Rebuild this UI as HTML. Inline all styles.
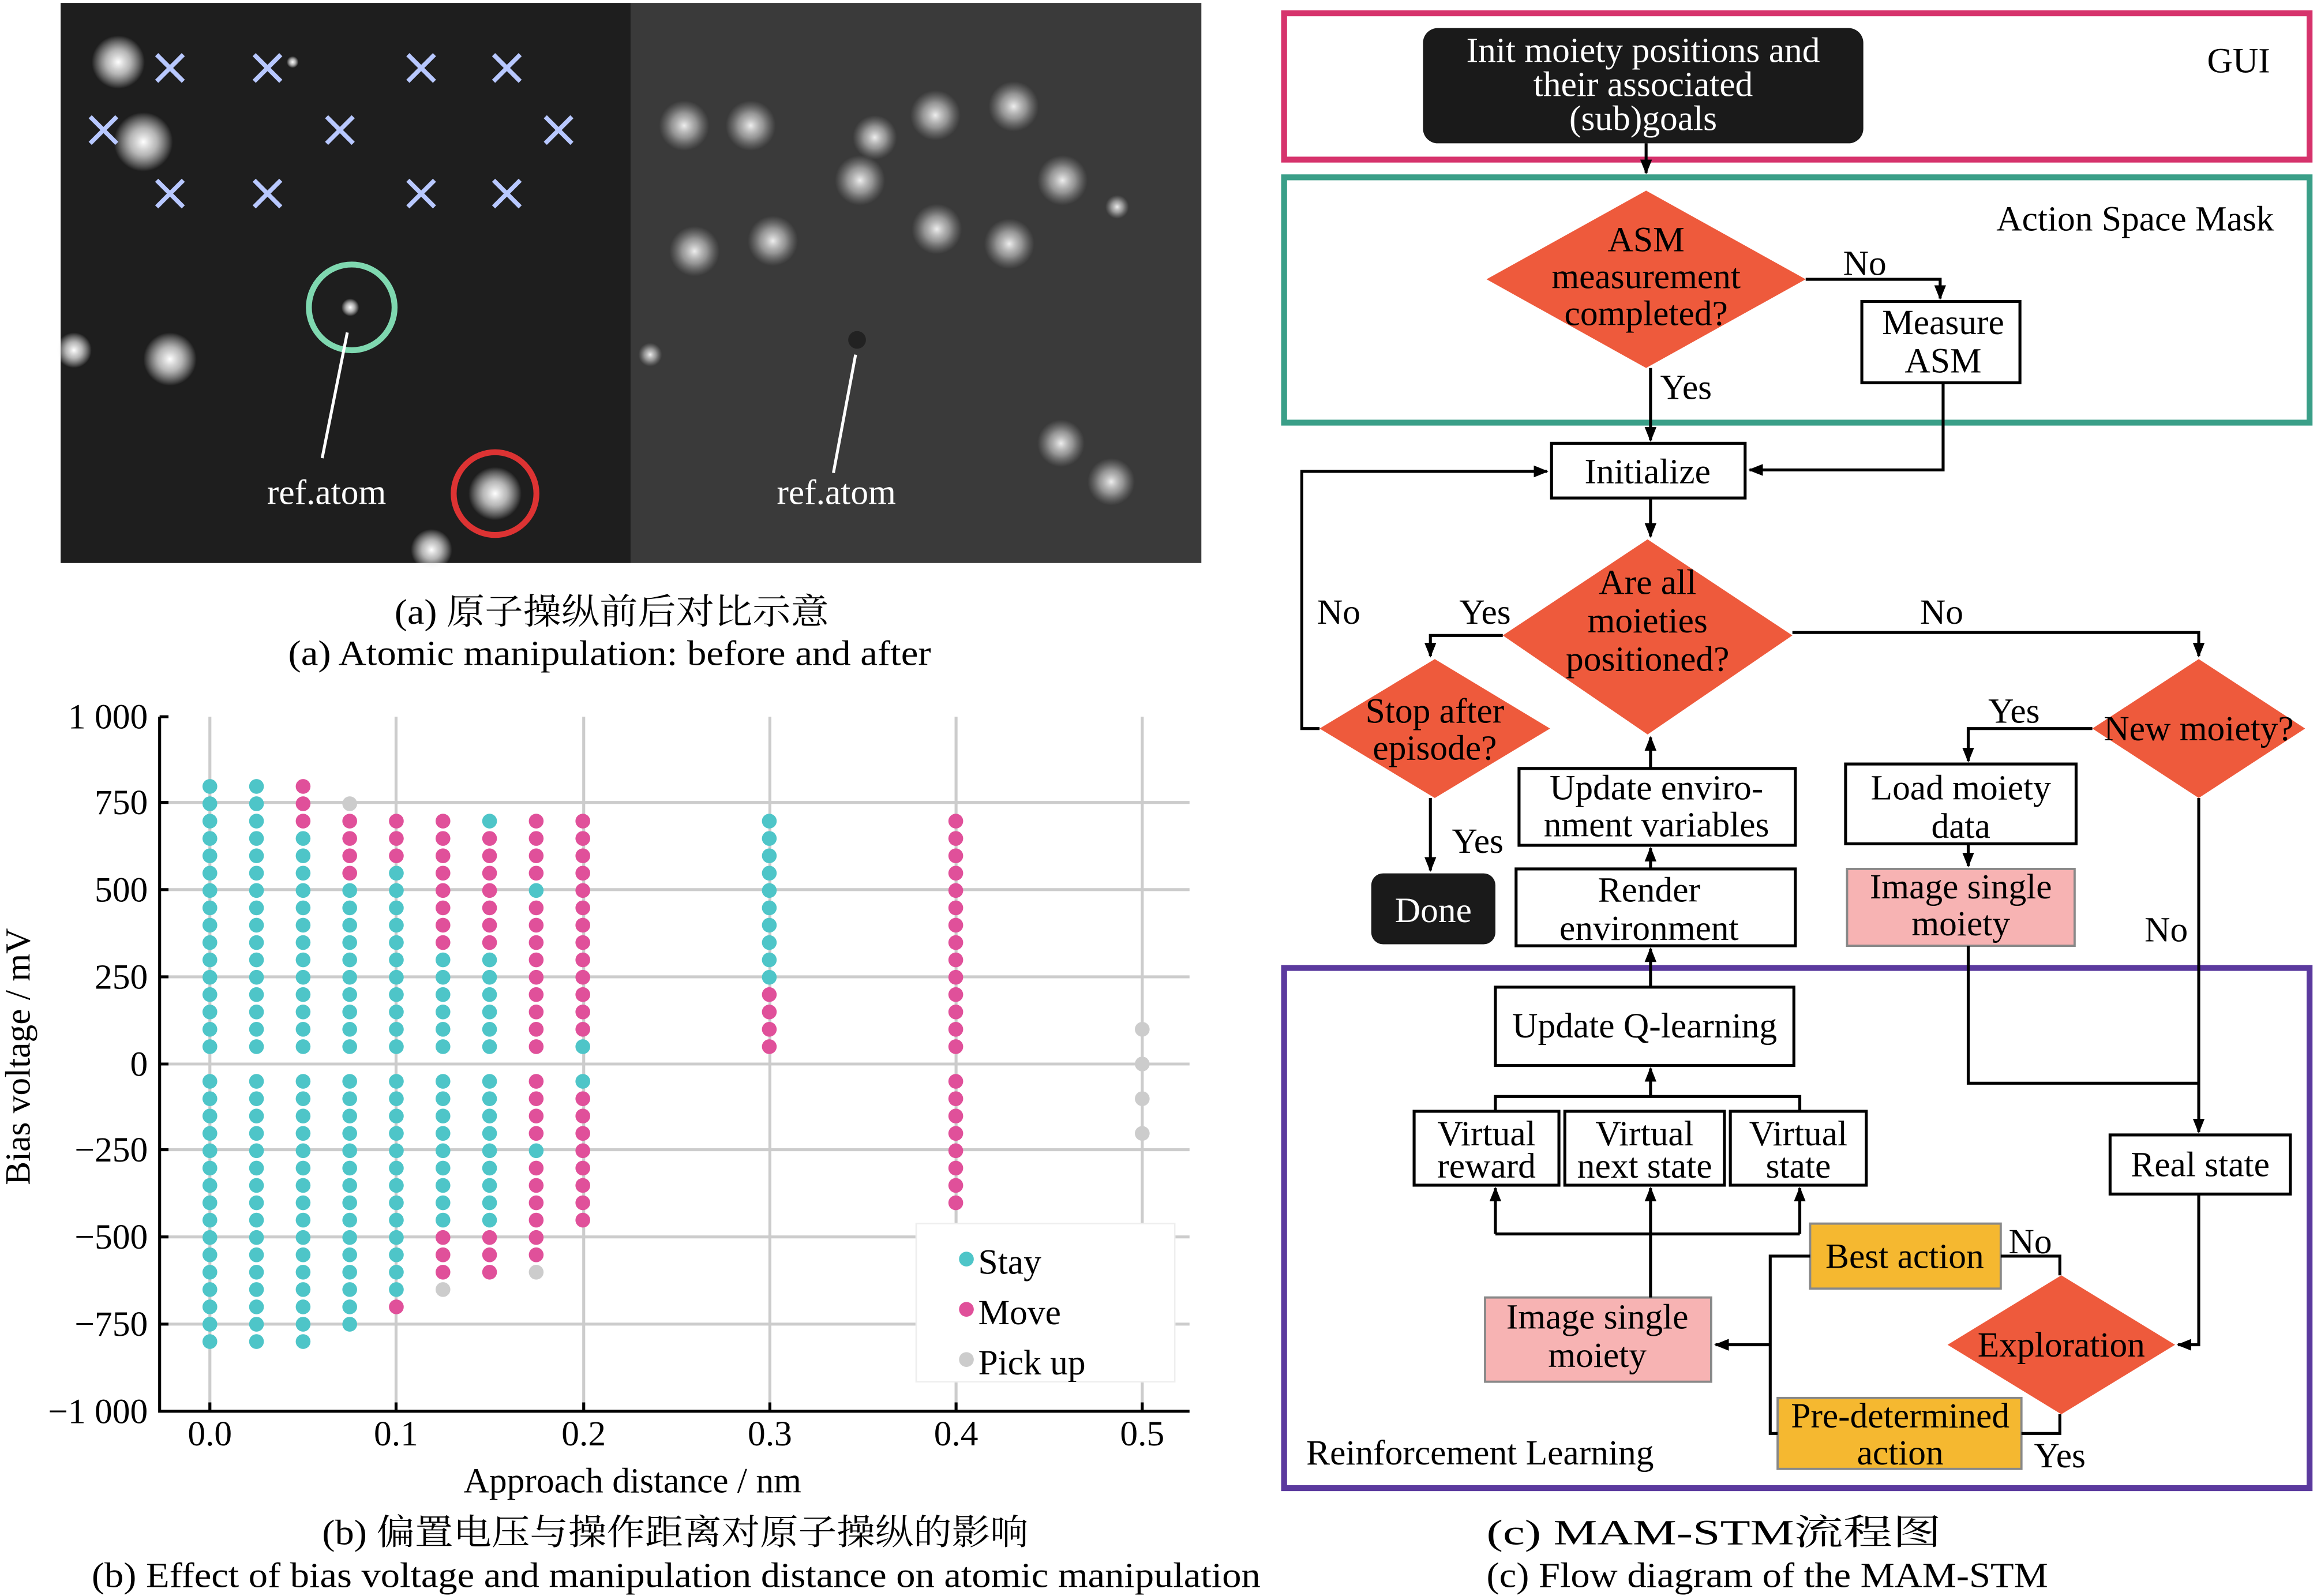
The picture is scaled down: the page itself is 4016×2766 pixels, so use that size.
<!DOCTYPE html>
<html><head><meta charset="utf-8"><style>
html,body{margin:0;padding:0;background:#fff;}
svg{display:block;}
text{font-family:"Liberation Serif","Noto Serif CJK SC","Noto Sans CJK SC",serif;}
</style></head><body>
<svg width="4016" height="2766" viewBox="0 0 1568 1080" xmlns="http://www.w3.org/2000/svg">
<defs>
<marker id="ar" markerWidth="10" markerHeight="10" refX="9" refY="5" orient="auto" markerUnits="userSpaceOnUse"><path d="M0,1 L10,5 L0,9 z" fill="#000"/></marker>
<radialGradient id="bl"><stop offset="0" stop-color="#fff"/><stop offset="0.45" stop-color="#ddd" stop-opacity="0.8"/><stop offset="1" stop-color="#fff" stop-opacity="0"/></radialGradient>
<radialGradient id="bl2"><stop offset="0" stop-color="#eee"/><stop offset="0.5" stop-color="#bbb" stop-opacity="0.7"/><stop offset="1" stop-color="#999" stop-opacity="0"/></radialGradient>
</defs>
<rect width="1568" height="1080" fill="#fff"/>

<!-- Panel a -->
<rect x="41" y="2" width="386" height="379" fill="#1e1e1e"/>
<rect x="427" y="2" width="386" height="379" fill="#3a3a3a"/>
<g>
<circle cx="80" cy="42" r="18" fill="url(#bl)"/><circle cx="97" cy="96" r="20" fill="url(#bl)"/>
<circle cx="115" cy="243" r="18" fill="url(#bl)"/><circle cx="335" cy="334" r="18" fill="url(#bl)"/>
<circle cx="292" cy="372" r="14" fill="url(#bl)"/><circle cx="50" cy="237" r="12" fill="url(#bl)"/>
<circle cx="237" cy="208" r="6" fill="url(#bl)"/><circle cx="198" cy="42" r="4" fill="url(#bl)"/>
</g>
<g fill="url(#bl2)">
<circle cx="463" cy="85" r="17"/><circle cx="508" cy="85" r="17"/><circle cx="592" cy="93" r="15"/>
<circle cx="633" cy="78" r="17"/><circle cx="686" cy="72" r="17"/><circle cx="582" cy="122" r="17"/>
<circle cx="719" cy="122" r="17"/><circle cx="470" cy="170" r="17"/><circle cx="523" cy="163" r="17"/>
<circle cx="634" cy="155" r="17"/><circle cx="683" cy="165" r="17"/><circle cx="756" cy="140" r="8"/>
<circle cx="718" cy="300" r="16"/><circle cx="752" cy="326" r="16"/><circle cx="440" cy="240" r="8"/>
</g>
<circle cx="580" cy="230" r="6" fill="#222"/>
<g stroke="#b8c8ff" stroke-width="3">
<path d="M106,37l18,18M124,37l-18,18M172,37l18,18M190,37l-18,18M276,37l18,18M294,37l-18,18M334,37l18,18M352,37l-18,18M61,79l18,18M79,79l-18,18M221,79l18,18M239,79l-18,18M369,79l18,18M387,79l-18,18M106,122l18,18M124,122l-18,18M172,122l18,18M190,122l-18,18M276,122l18,18M294,122l-18,18M334,122l18,18M352,122l-18,18"/>
</g>
<circle cx="238" cy="208" r="29" fill="none" stroke="#7fd8b0" stroke-width="4"/>
<circle cx="335" cy="334" r="28" fill="none" stroke="#d33" stroke-width="4"/>
<line x1="235" y1="225" x2="218" y2="310" stroke="#fff" stroke-width="2"/>
<line x1="579" y1="240" x2="564" y2="320" stroke="#fff" stroke-width="2"/>
<text x="221" y="341" fill="#fff" font-size="24" text-anchor="middle">ref.atom</text>
<text x="566" y="341" fill="#fff" font-size="24" text-anchor="middle">ref.atom</text>
<g font-size="24">
<text x="267" y="422" textLength="294" lengthAdjust="spacingAndGlyphs">(a) 原子操纵前后对比示意</text>
<text x="195" y="450" textLength="435" lengthAdjust="spacingAndGlyphs">(a) Atomic manipulation: before and after</text>
</g>

<!-- Panel b -->
<g stroke="#ccc" stroke-width="2">
<path d="M108,543H805M108,602H805M108,661H805M108,720H805M108,778H805M108,837H805M108,896H805"/>
<path d="M142,485V955M268,485V955M395,485V955M521,485V955M647,485V955M773,485V955"/>
</g>
<path d="M108,485V955H805" stroke="#000" stroke-width="2" fill="none"/>
<g stroke="#000" stroke-width="2"><path d="M108,485h6M108,543h6M108,602h6M108,661h6M108,720h6M108,778h6M108,837h6M108,896h6M142,955v-6M268,955v-6M395,955v-6M521,955v-6M647,955v-6M773,955v-6"/></g>
<g font-size="24" text-anchor="end">
<text x="100" y="493">1 000</text><text x="100" y="551">750</text><text x="100" y="610">500</text><text x="100" y="669">250</text><text x="100" y="728">0</text><text x="100" y="786">−250</text><text x="100" y="845">−500</text><text x="100" y="904">−750</text><text x="100" y="963">−1 000</text>
</g>
<g font-size="24" text-anchor="middle">
<text x="142" y="978">0.0</text><text x="268" y="978">0.1</text><text x="395" y="978">0.2</text><text x="521" y="978">0.3</text><text x="647" y="978">0.4</text><text x="773" y="978">0.5</text>
<text x="428" y="1010">Approach distance / nm</text>
<text x="20" y="715" transform="rotate(-90 20 715)">Bias voltage / mV</text>
</g>
<g font-size="24">
<text x="218" y="1045" textLength="478" lengthAdjust="spacingAndGlyphs">(b) 偏置电压与操作距离对原子操纵的影响</text>
<text x="62" y="1074" textLength="791" lengthAdjust="spacingAndGlyphs">(b) Effect of bias voltage and manipulation distance on atomic manipulation</text>
</g>
<rect x="620" y="828" width="175" height="107" fill="#fff" stroke="#eee"/>
<circle cx="654" cy="852" r="5" fill="#4ec5c8"/><circle cx="654" cy="886" r="5" fill="#e0509a"/><circle cx="654" cy="920" r="5" fill="#ccc"/>
<g font-size="24"><text x="662" y="862">Stay</text><text x="662" y="896">Move</text><text x="662" y="930">Pick up</text></g>

<!-- Panel c -->
<g fill="none" stroke-width="4">
<rect x="869" y="9" width="694" height="99" stroke="#d6336c"/>
<rect x="869" y="120" width="694" height="166" stroke="#3a9f88"/>
<rect x="869" y="655" width="694" height="352" stroke="#5b3a9e"/>
</g>
<g font-size="24">
<text x="1515" y="49" text-anchor="middle">GUI</text>
<text x="1445" y="156" text-anchor="middle">Action Space Mask</text>
<text x="884" y="991">Reinforcement Learning</text>
</g>
<rect x="963" y="19" width="298" height="78" rx="10" fill="#1a1a1a"/>
<g font-size="24" fill="#fff" text-anchor="middle"><text x="1112" y="42">Init moiety positions and</text><text x="1112" y="65">their associated</text><text x="1112" y="88">(sub)goals</text></g>
<g fill="#ee5a3c">
<polygon points="1114,129 1222,189 1114,249 1006,189"/>
<polygon points="1115,365 1213,430 1115,497 1017,430"/>
<polygon points="971,446 1049,493 971,540 893,493"/>
<polygon points="1488,446 1560,493 1488,540 1416,493"/>
<polygon points="1395,863 1472,910 1395,957 1318,910"/>
</g>
<g fill="#fff" stroke="#000" stroke-width="2">
<rect x="1260" y="204" width="107" height="55"/>
<rect x="1050" y="300" width="131" height="37"/>
<rect x="1249" y="517" width="156" height="54"/>
<rect x="1028" y="520" width="187" height="52"/>
<rect x="1026" y="588" width="189" height="52"/>
<rect x="1428" y="768" width="122" height="40"/>
<rect x="1012" y="668" width="202" height="53"/>
<rect x="957" y="752" width="98" height="50"/>
<rect x="1059" y="752" width="108" height="50"/>
<rect x="1171" y="752" width="92" height="50"/>
</g>
<g stroke="#888" stroke-width="1.5">
<rect x="1250" y="588" width="154" height="52" fill="#f7b3b3"/>
<rect x="1005" y="878" width="153" height="57" fill="#f7b3b3"/>
<rect x="1225" y="828" width="129" height="44" fill="#f5b830"/>
<rect x="1203" y="946" width="165" height="48" fill="#f5b830"/>
</g>
<rect x="928" y="591" width="84" height="48" rx="8" fill="#1a1a1a"/>
<g font-size="24" text-anchor="middle">
<text x="1114" y="170">ASM</text><text x="1114" y="195">measurement</text><text x="1114" y="220">completed?</text>
<text x="1315" y="226">Measure</text><text x="1315" y="252">ASM</text>
<text x="1115" y="327">Initialize</text>
<text x="1115" y="402">Are all</text><text x="1115" y="428">moieties</text><text x="1115" y="454">positioned?</text>
<text x="971" y="489">Stop after</text><text x="971" y="514">episode?</text>
<text x="1488" y="501">New moiety?</text>
<text x="1327" y="541">Load moiety</text><text x="1327" y="567">data</text>
<text x="1327" y="608">Image single</text><text x="1327" y="633">moiety</text>
<text x="1121" y="541">Update enviro-</text><text x="1121" y="566">nment variables</text>
<text x="1116" y="610">Render</text><text x="1116" y="636">environment</text>
<text x="970" y="624" fill="#fff">Done</text>
<text x="1489" y="796">Real state</text>
<text x="1113" y="702">Update Q-learning</text>
<text x="1006" y="775">Virtual</text><text x="1006" y="797">reward</text>
<text x="1113" y="775">Virtual</text><text x="1113" y="797">next state</text>
<text x="1217" y="775">Virtual</text><text x="1217" y="797">state</text>
<text x="1081" y="899">Image single</text><text x="1081" y="925">moiety</text>
<text x="1289" y="858">Best action</text>
<text x="1286" y="966">Pre-determined</text><text x="1286" y="991">action</text>
<text x="1395" y="918">Exploration</text>
<text x="1262" y="186">No</text><text x="1141" y="270">Yes</text>
<text x="1005" y="422">Yes</text><text x="1314" y="422">No</text><text x="906" y="422">No</text>
<text x="1000" y="577">Yes</text><text x="1363" y="489">Yes</text><text x="1466" y="637">No</text>
<text x="1374" y="848">No</text><text x="1394" y="993">Yes</text>
</g>
<g font-size="24">
<text x="1006" y="1045" textLength="308" lengthAdjust="spacingAndGlyphs">(c) MAM-STM流程图</text>
<text x="1006" y="1074" textLength="380" lengthAdjust="spacingAndGlyphs">(c) Flow diagram of the MAM-STM</text>
</g>
<g fill="none" stroke="#000" stroke-width="2">
<path d="M1114,97V117" marker-end="url(#ar)"/>
<path d="M1222,189H1313V202" marker-end="url(#ar)"/>
<path d="M1117,249V298" marker-end="url(#ar)"/>
<path d="M1315,259V318H1184" marker-end="url(#ar)"/>
<path d="M893,493H881V319H1047" marker-end="url(#ar)"/>
<path d="M1117,337V363" marker-end="url(#ar)"/>
<path d="M1017,430H968V444" marker-end="url(#ar)"/>
<path d="M1213,428H1488V444" marker-end="url(#ar)"/>
<path d="M968,540V589" marker-end="url(#ar)"/>
<path d="M1416,493H1332V515" marker-end="url(#ar)"/>
<path d="M1332,571V586" marker-end="url(#ar)"/>
<path d="M1332,640V733H1488"/>
<path d="M1488,540V766" marker-end="url(#ar)"/>
<path d="M1117,520V499" marker-end="url(#ar)"/>
<path d="M1117,588V574" marker-end="url(#ar)"/>
<path d="M1117,668V642" marker-end="url(#ar)"/>
<path d="M1012,752V742H1218V752"/>
<path d="M1117,742V723" marker-end="url(#ar)"/>
<path d="M1012,835H1218"/>
<path d="M1012,835V804" marker-end="url(#ar)"/>
<path d="M1218,835V804" marker-end="url(#ar)"/>
<path d="M1117,878V804" marker-end="url(#ar)"/>
<path d="M1488,808V910H1474" marker-end="url(#ar)"/>
<path d="M1354,850H1394V863"/>
<path d="M1368,970H1394V957"/>
<path d="M1225,850H1198V970H1203"/>
<path d="M1198,910H1161" marker-end="url(#ar)"/>
</g>

<g id="d"></g>
<script>
(function(){
var T="#4ec5c8",M="#e0509a",G="#ccc";
function X(v){return 142+v*1262;}
function Y(v){return 720-v*0.2348;}
var g=document.getElementById('d'),ns="http://www.w3.org/2000/svg";
function col(x,segs){segs.forEach(function(s){for(var v=s[0];v>=s[1];v-=50){var c=document.createElementNS(ns,'circle');c.setAttribute('cx',X(x));c.setAttribute('cy',Y(v));c.setAttribute('r',5);c.setAttribute('fill',s[2]);g.appendChild(c);}});}
col(0,[[800,50,T],[-50,-800,T]]);
col(0.025,[[800,50,T],[-50,-800,T]]);
col(0.05,[[800,700,M],[650,50,T],[-50,-800,T]]);
col(0.075,[[750,750,G],[700,550,M],[500,50,T],[-50,-750,T]]);
col(0.1,[[700,600,M],[550,50,T],[-50,-650,T],[-700,-700,M]]);
col(0.125,[[700,350,M],[300,50,T],[-50,-450,T],[-500,-600,M],[-650,-650,G]]);
col(0.15,[[700,700,T],[650,350,M],[300,50,T],[-50,-450,T],[-500,-600,M]]);
col(0.175,[[700,550,M],[500,500,T],[450,50,M],[-50,-200,M],[-250,-250,T],[-300,-550,M],[-600,-600,G]]);
col(0.2,[[700,100,M],[50,50,T],[-50,-50,T],[-100,-450,M]]);
col(0.3,[[700,250,T],[200,50,M]]);
col(0.4,[[700,50,M],[-50,-400,M]]);
col(0.5,[[100,100,G],[0,0,G],[-100,-100,G],[-200,-200,G]]);
})();
</script>
</svg>
</body></html>
